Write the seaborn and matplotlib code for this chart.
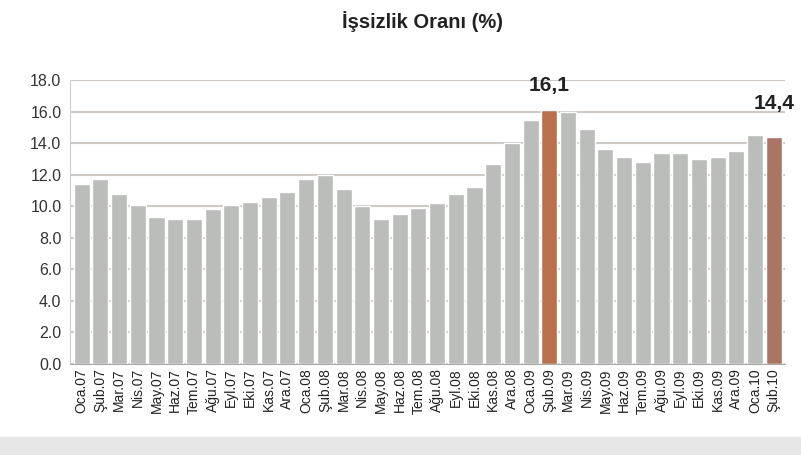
import pandas as pd
import numpy as np
import matplotlib
matplotlib.use('Agg')
import matplotlib.pyplot as plt
import seaborn as sns
from matplotlib.patches import Rectangle

# data
months = ['Oca', 'Şub', 'Mar', 'Nis', 'May', 'Haz', 'Tem', 'Ağu', 'Eyl', 'Eki', 'Kas', 'Ara']
labels = ([m + '.07' for m in months] + [m + '.08' for m in months]
          + [m + '.09' for m in months] + ['Oca.10', 'Şub.10'])
rates = [11.4, 11.7, 10.8, 10.1, 9.3, 9.2, 9.2, 9.8, 10.1, 10.3, 10.6, 10.9,
         11.7, 12.0, 11.1, 10.0, 9.2, 9.5, 9.9, 10.2, 10.8, 11.2, 12.7, 14.0,
         15.5, 16.1, 16.0, 14.9, 13.6, 13.1, 12.8, 13.4, 13.4, 13.0, 13.1, 13.5,
         14.5, 14.4]
highlight = {'Şub.09': ('16,1', '#b8714c'), 'Şub.10': ('14,4', '#aa7565')}

df = pd.DataFrame({'ay': labels, 'oran': rates})

# stil
sns.set_style('white')
plt.rcParams['font.family'] = ['Liberation Sans', 'DejaVu Sans']

palette = {lab: highlight[lab][1] if lab in highlight else '#babdba' for lab in labels}

fig = plt.figure(figsize=(8.01, 4.55), dpi=100)
ax = fig.add_axes([0.088, 0.2, 0.892, 0.624])

ax.set_axisbelow(True)
ax.yaxis.grid(True, color='#cfcac6', linewidth=1.5)
sns.barplot(data=df, x='ay', y='oran', hue='ay', palette=palette, legend=False,
            width=0.86, saturation=1, ax=ax)

# etiketler
for i, lab in enumerate(labels):
    if lab in highlight:
        ax.annotate(highlight[lab][0], (i, rates[i]), xytext=(0, 11 if i < 37 else 17),
                    textcoords='offset points', ha='center', va='bottom',
                    fontsize=15, fontweight='bold', color='#222222')

ax.set_ylim(0, 18)
ax.set_xlim(-0.6, len(labels) - 0.4)
ax.set_yticks(np.arange(0, 18.1, 2))
ax.set_yticklabels([f'{v:.1f}' for v in np.arange(0, 18.1, 2)])
ax.tick_params(axis='y', labelsize=11.5, colors='#333333', length=3, color='#bbbbbb')
ax.tick_params(axis='x', labelsize=10, colors='#222222', rotation=90, length=0, pad=3)
ax.set_xlabel('')
ax.set_ylabel('')
for s in ['top', 'right']:
    ax.spines[s].set_visible(False)
ax.spines['left'].set_color('#cccccc')
ax.spines['bottom'].set_color('#aaaaaa')

fig.suptitle('İşsizlik Oranı (%)', x=0.527, y=0.975, fontsize=14.5, fontweight='bold', color='#222222')

# alt gri bant
fig.add_artist(Rectangle((0, 0), 1, 0.04, transform=fig.transFigure, color='#e6e6e6', zorder=-1))

plt.savefig('out.png', dpi=100)
